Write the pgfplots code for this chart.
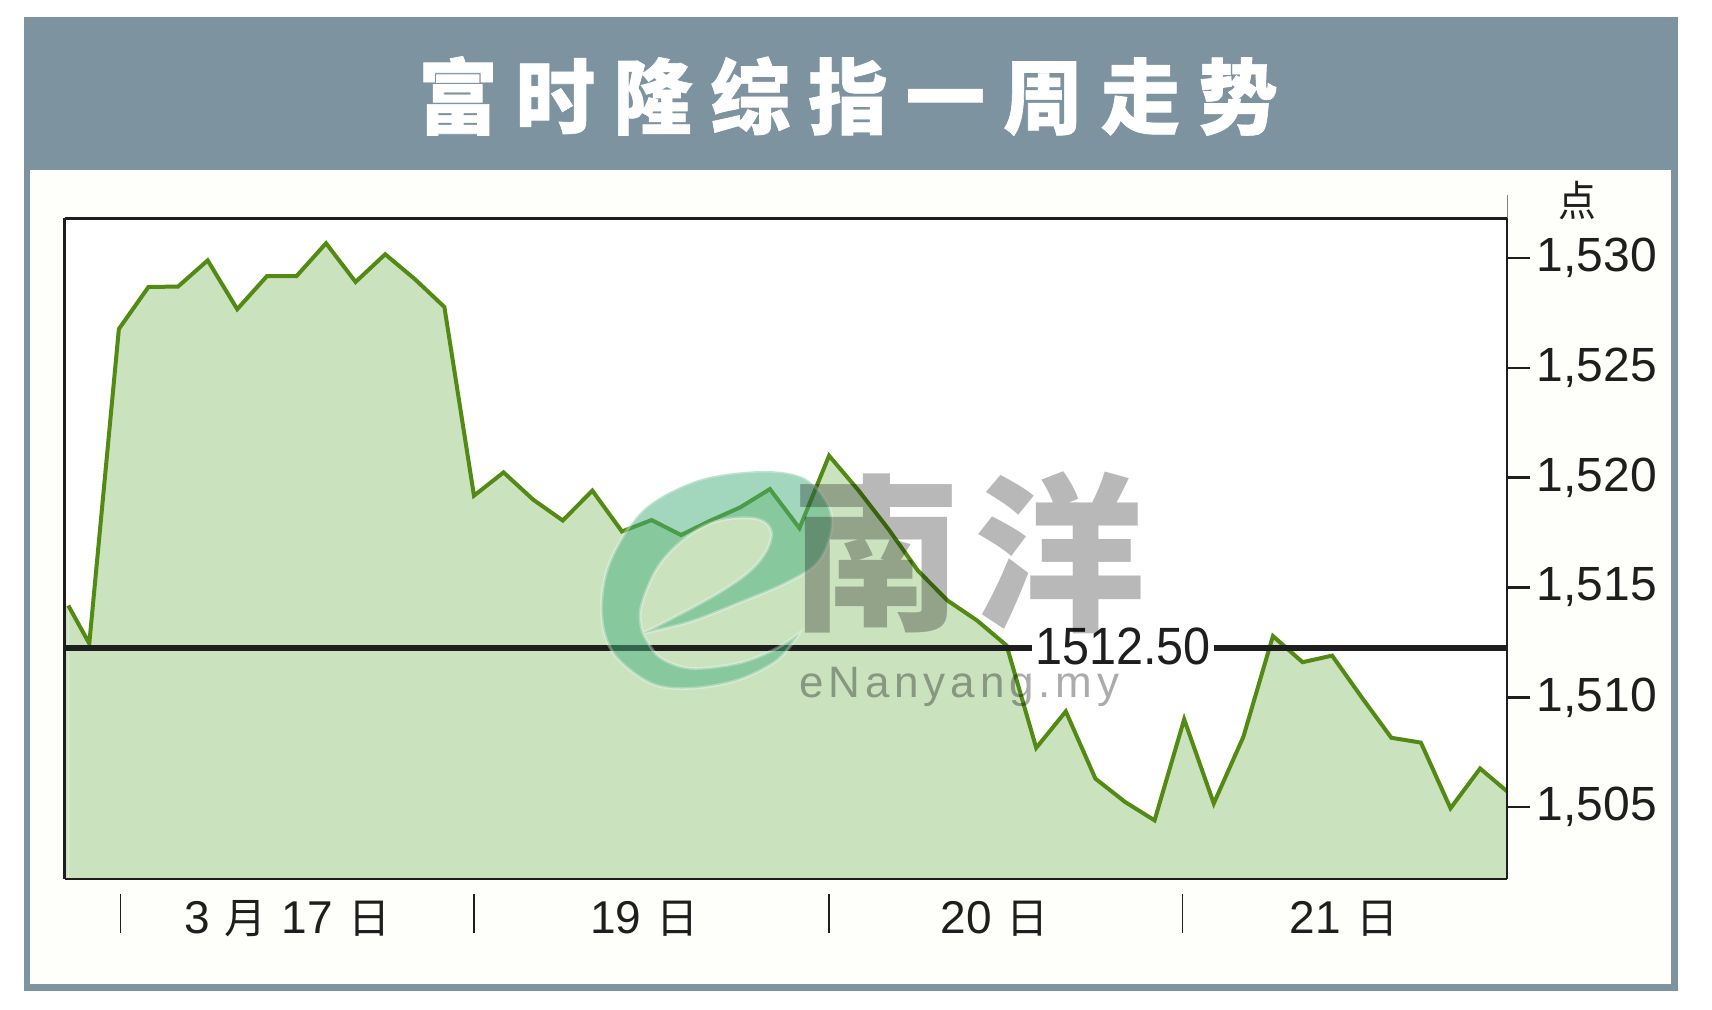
\documentclass[border=0pt]{standalone}
\usepackage{fontspec}
\usepackage{pgfplots}
\usepackage{pgfplotstable}
\pgfplotsset{compat=1.18}
\setmainfont{Liberation Sans}
\newfontfamily\cjk{Noto Sans CJK SC}
\newfontfamily\cjktitle[LetterSpace=22.6,BoldFeatures={FakeBold=0.8}]{Noto Sans CJK SC}
\newfontfamily\wmfont[LetterSpace=11]{Liberation Sans}
\newcommand{\zh}[1]{{\cjk\fontsize{21}{21}\selectfont #1}}
\newcommand{\gap}{\hspace{7.5pt}}

\definecolor{hdr}{RGB}{125,147,160}
\definecolor{paper}{RGB}{254,254,250}
\definecolor{areafill}{RGB}{203,226,191}
\definecolor{arealine}{RGB}{82,138,20}
\definecolor{ink}{RGB}{30,30,30}
\definecolor{logogreen}{RGB}{70,175,125}

% index value
\pgfplotstableread{
x y
0.29 1514.18
1 1512.45
2 1526.77
3 1528.68
4 1528.70
5 1529.89
6 1527.67
7 1529.17
8 1529.17
9 1530.67
10 1528.91
11 1530.17
12 1529.04
13 1527.77
14 1519.18
15 1520.24
16 1519.00
17 1518.05
18 1519.41
19 1517.55
20 1518.07
21 1517.39
22 1518.05
23 1518.65
24 1519.48
25 1517.70
26 1521.00
27 1519.41
28 1517.67
29 1515.77
30 1514.41
31 1513.50
32 1512.36
33 1507.70
34 1509.36
35 1506.30
36 1505.24
37 1504.40
38 1509.00
39 1505.17
40 1508.20
41 1512.79
42 1511.60
43 1511.90
44 1510.00
45 1508.16
46 1507.94
47 1504.95
48 1506.76
49 1505.62
}\fsedata

\begin{document}
\begin{tikzpicture}[x=0.5pt,y=-0.5pt]
\path[use as bounding box,fill=white] (0,0) rectangle (1712,1009);
\fill[hdr] (23.5,17) rectangle (1677.5,990.7);
\fill[paper] (30,170) rectangle (1671,984);
\node[text=white,font=\cjktitle\bfseries\fontsize{41}{41}\selectfont,inner sep=0pt] at (848,96)
  {\scalebox{0.97}[1]{富时隆综指一周走势}};
\node[text=ink,inner sep=0pt,font=\cjk\fontsize{21}{21}\selectfont] at (1577,201) {\scalebox{0.9}[1]{点}};
\draw[black!50,line width=0.4pt] (1507,195) -- (1507,218);

\begin{axis}[
  at={(32.35pt,-439.5pt)}, anchor=south west,
  scale only axis,
  width=721.15pt, height=330.5pt,
  xmin=0.169, xmax=48.91,
  ymin=1501.73, ymax=1531.82,
  axis background/.style={fill=white},
  axis line style={draw=none},
  clip mode=individual,
  ytick={1505,1510,1515,1520,1525,1530},
  ytick pos=right,
  yticklabel pos=right,
  y tick style={draw=ink,line width=1.2pt},
  tick align=outside,
  major tick length=11.5pt,
  y tick label style={/pgf/number format/.cd,1000 sep={,},assume math mode=true,
    /tikz/.cd,inner sep=0pt,anchor=west,xshift=3.2pt,text=ink,font=\fontsize{24}{24}\selectfont},
  xtick=\empty,
  xtick pos=bottom,
  extra x ticks={7.69,19.76,31.6,43.4},
  extra x tick labels={{3\gap\zh{月}\gap 17\gap\zh{日}},{19\gap\zh{日}},{20\gap\zh{日}},{21\gap\zh{日}}},
  extra x tick style={tick style={draw=none},
    tick label style={inner sep=0pt,anchor=center,yshift=-8.5pt,text=ink,font=\fontsize{23}{23}\selectfont}},
]
\addplot[fill=areafill,draw=none] coordinates {(0.169,1501.73)(0.169,1514.18)(0.29,1514.18)(0.29,1501.73)};
\addplot[fill=areafill,draw=none] table[x=x,y=y] {\fsedata} \closedcycle;
\addplot[arealine,line width=2pt] table[x=x,y=y] {\fsedata};
\addplot[ink,line width=3pt] coordinates {(0.169,1512.23)(32.87,1512.23)};
\addplot[ink,line width=3pt] coordinates {(39.0,1512.23)(48.91,1512.23)};
\node[text=ink,inner sep=0pt,font=\fontsize{24.3}{24.3}\selectfont] at ([yshift=1pt]axis cs:35.93,1512.23) {\scalebox{1}[1.08]{1512.50}};
\draw[ink,line width=1.5pt] (rel axis cs:0,0) -- (rel axis cs:0,1);
\draw[ink,line width=1.5pt] (rel axis cs:0,1) -- (rel axis cs:1,1);
\draw[ink,line width=0.6pt] (rel axis cs:1,1) -- (rel axis cs:1,0);
\draw[ink,line width=1pt] (rel axis cs:0,0) -- (rel axis cs:1,0);
% day separators below the axis
\draw[ink,line width=0.7pt] ([yshift=-7.5pt]axis cs:2.05,1501.73) -- ++(0pt,-19.5pt);
\draw[ink,line width=0.7pt] ([yshift=-7.5pt]axis cs:14,1501.73) -- ++(0pt,-19.5pt);
\draw[ink,line width=0.7pt] ([yshift=-7.5pt]axis cs:26,1501.73) -- ++(0pt,-19.5pt);
\draw[ink,line width=0.7pt] ([yshift=-7.5pt]axis cs:37.95,1501.73) -- ++(0pt,-19.5pt);
\end{axis}

% eNanyang watermark on top of the chart
\begin{scope}[shift={(560,440)},xscale=0.3954,yscale=0.3333]
\path[fill=logogreen,fill opacity=0.5,even odd rule,draw=white,draw opacity=0.3,line width=1.5pt]
  plot[smooth,tension=0.55] coordinates {(210,580)(330,545)(450,490)(570,430)(650,370)(685,280)(680,200)(620,115)(510,93)(350,120)(210,210)(125,370)(105,520)(135,640)(230,730)(330,745)(450,720)(550,660)(605,580)}
  -- plot[smooth,tension=0.55] coordinates {(605,580)(540,630)(450,670)(330,685)(250,650)(210,580)} -- cycle
  plot[smooth,tension=0.6] coordinates {(210,580)(205,500)(260,360)(370,255)(490,235)(535,280)(500,370)(400,460)(210,580)} -- cycle;
\end{scope}
\node[text=black,text opacity=0.28,inner sep=0pt,font=\cjk\bfseries\fontsize{85}{85}\selectfont] at (876,553) {南};
\node[text=black,text opacity=0.28,inner sep=0pt,font=\cjk\bfseries\fontsize{85}{85}\selectfont] at (1060,553) {洋};
\node[text=black,text opacity=0.33,inner sep=0pt,anchor=base west,font=\wmfont\fontsize{22}{22}\selectfont] at (799,697) {eNanyang.my};
\end{tikzpicture}
\end{document}
